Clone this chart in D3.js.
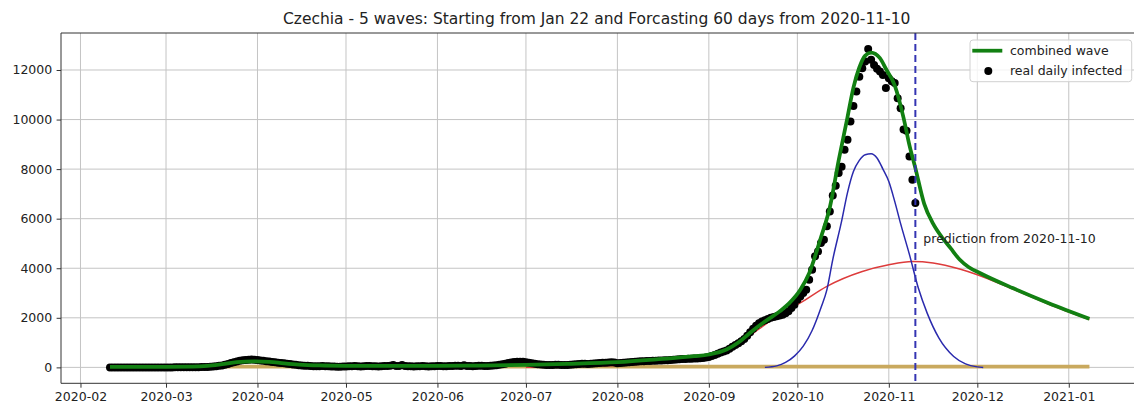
<!DOCTYPE html>
<html>
<head>
<meta charset="utf-8">
<script src="https://cdn.jsdelivr.net/npm/d3@7"></script>
<style>
  body { margin: 0; background: #fff; }
  svg { display: block; font-family: "DejaVu Sans", sans-serif; }
</style>
</head>
<body>
<svg id="chart" width="1134" height="408"></svg>
<script>
// ---- data -------------------------------------------------------------
const chartTitle = "Czechia - 5 waves: Starting from Jan 22 and Forcasting 60 days from 2020-11-10";
const predictionDate = "2020-11-10";
const predictionLabel = "prediction from 2020-11-10";
const legendLabels = ["combined wave", "real daily infected"];

const yTicks = [0, 2000, 4000, 6000, 8000, 10000, 12000];
const xTickMonths = ["2020-02-01", "2020-03-01", "2020-04-01", "2020-05-01", "2020-06-01",
  "2020-07-01", "2020-08-01", "2020-09-01", "2020-10-01", "2020-11-01", "2020-12-01", "2021-01-01"];

// daily infected, one value per day from infectedStart
const infectedStart = "2020-02-11";
const dailyInfected = [
  // Feb 11 - Feb 29
  0, 0, 0, 0, 0, 0, 0, 0, 0, 0, 0, 0, 0, 0, 0, 0, 0, 0, 0,
  // March
  0, 0, 0, 2, 3, 3, 4, 4, 5, 5, 8, 10, 12, 15, 18, 22, 35, 50, 65, 80,
  110, 140, 175, 210, 240, 265, 285, 300, 310, 315, 305,
  // April
  295, 280, 265, 250, 235, 220, 205, 190, 178, 165, 150, 135, 120, 105, 90,
  80, 70, 62, 55, 50, 45, 45, 60, 50, 45, 40, 35, 30, 30, 35,
  // May
  40, 45, 50, 55, 45, 40, 50, 60, 55, 50, 45, 40, 50, 55, 60, 70, 95, 60, 55, 95,
  60, 50, 45, 40, 45, 50, 55, 45, 40, 45, 50,
  // June
  55, 60, 50, 45, 55, 60, 65, 70, 60, 90, 60, 55, 50, 60, 65, 70, 60, 55, 65, 75,
  90, 110, 130, 150, 180, 200, 215, 225, 230, 225,
  // July
  210, 190, 170, 150, 130, 115, 105, 100, 95, 100, 105, 110, 100, 95, 100, 110,
  120, 130, 140, 150, 145, 140, 150, 160, 170, 180, 185, 190, 200, 210, 200,
  // August
  170, 180, 190, 200, 210, 220, 230, 240, 245, 250, 255, 260, 265, 270, 275, 280,
  285, 290, 300, 310, 320, 330, 335, 340, 345, 350, 355, 360, 370, 380, 400,
  // September
  420, 460, 500, 550, 600, 640, 680, 750, 830, 900, 970, 1050, 1150, 1280, 1420,
  1560, 1680, 1780, 1850, 1900, 1950, 2000, 2030, 2060, 2090, 2125, 2180, 2260, 2400, 2530,
  // October
  2730, 2860, 3000, 3130, 3540, 3940, 4480, 4680, 5020, 5150, 5690, 6290, 6940, 7330, 7840,
  8100, 8780, 9180, 9920, 10550, 11130, 11730, 12070, 12340, 12850, 12410, 12200, 12050,
  11940, 11800, 11270,
  // Nov 1 - Nov 10
  11670, 11550, 11470, 10860, 10460, 9600, 9550, 8510, 7570, 6630
];

// fitted curves: [date, value]
const combinedWave = [
  ["2020-02-11", 20], ["2020-03-01", 20], ["2020-03-10", 30], ["2020-03-15", 60],
  ["2020-03-20", 130], ["2020-03-25", 210], ["2020-03-31", 245], ["2020-04-05", 225],
  ["2020-04-10", 165], ["2020-04-15", 115], ["2020-04-22", 80], ["2020-05-01", 65],
  ["2020-05-15", 60], ["2020-06-01", 65], ["2020-06-15", 75], ["2020-07-01", 100],
  ["2020-07-15", 140], ["2020-08-01", 210], ["2020-08-15", 330], ["2020-08-27", 450],
  ["2020-09-01", 520], ["2020-09-07", 720], ["2020-09-11", 1000], ["2020-09-15", 1400],
  ["2020-09-20", 1850], ["2020-09-25", 2260], ["2020-09-28", 2560], ["2020-10-02", 3130],
  ["2020-10-05", 3800], ["2020-10-09", 5250], ["2020-10-12", 6450], ["2020-10-15", 8350],
  ["2020-10-18", 10100], ["2020-10-20", 11290], ["2020-10-22", 12100], ["2020-10-24", 12580],
  ["2020-10-26", 12700], ["2020-10-29", 12480], ["2020-10-31", 12050], ["2020-11-03", 11380],
  ["2020-11-06", 10070], ["2020-11-08", 8960], ["2020-11-10", 8040], ["2020-11-13", 6600],
  ["2020-11-16", 5800], ["2020-11-19", 5250], ["2020-11-22", 4800], ["2020-11-25", 4350],
  ["2020-11-28", 4050], ["2020-12-02", 3800], ["2020-12-13", 3200], ["2020-12-25", 2600],
  ["2021-01-08", 1960]
];

const waveRed = [
  ["2020-07-01", 5], ["2020-08-01", 80], ["2020-08-15", 200], ["2020-09-01", 450],
  ["2020-09-11", 950], ["2020-09-18", 1550], ["2020-09-25", 2125], ["2020-10-02", 2600],
  ["2020-10-11", 3270], ["2020-10-23", 3870], ["2020-11-01", 4140], ["2020-11-09", 4270],
  ["2020-11-16", 4210], ["2020-11-25", 3970], ["2020-12-01", 3740], ["2020-12-13", 3160],
  ["2020-12-25", 2560], ["2021-01-08", 1930]
];

const waveBlue = [
  ["2020-09-20", 0], ["2020-09-24", 60], ["2020-09-27", 200], ["2020-09-30", 455],
  ["2020-10-03", 855], ["2020-10-06", 1490], ["2020-10-09", 2410], ["2020-10-11", 3130],
  ["2020-10-13", 4350], ["2020-10-16", 5900], ["2020-10-18", 7050], ["2020-10-20", 7900],
  ["2020-10-22", 8350], ["2020-10-24", 8580], ["2020-10-26", 8620], ["2020-10-28", 8450],
  ["2020-10-30", 8000], ["2020-11-01", 7500], ["2020-11-03", 6700], ["2020-11-05", 5800],
  ["2020-11-08", 4550], ["2020-11-11", 3200], ["2020-11-14", 2190], ["2020-11-18", 1180],
  ["2020-11-23", 440], ["2020-11-27", 140], ["2020-12-01", 20], ["2020-12-03", 0]
];

const waveGold = [["2020-02-11", 30], ["2020-06-01", 30], ["2020-10-01", 30], ["2021-01-08", 30]];

// ---- layout -----------------------------------------------------------
const frame = { left: 61, right: 1138.4, top: 33, bottom: 383.3 };
const parse = d3.utcParse("%Y-%m-%d");
const svg = d3.select("#chart");

const infected = dailyInfected.map((v, i) => [d3.utcDay.offset(parse(infectedStart), i), v]);
const toPts = arr => arr.map(d => [parse(d[0]), d[1]]);
const combinedPts = toPts(combinedWave);
const redPts = toPts(waveRed);
const bluePts = toPts(waveBlue);
const goldPts = toPts(waveGold);

// axis limits with 5% padding around the data
const allDates = infected.map(d => d[0]).concat(combinedPts.map(d => d[0]));
const [dMin, dMax] = d3.extent(allDates);
const dPad = (dMax - dMin) * 0.05;
const x = d3.scaleUtc()
  .domain([new Date(+dMin - dPad), new Date(+dMax + dPad)])
  .range([frame.left, frame.right]);

const allVals = dailyInfected.concat(combinedPts.map(d => d[1]));
const [vMin, vMax] = d3.extent(allVals);
const vPad = (vMax - vMin) * 0.05;
const y = d3.scaleLinear()
  .domain([vMin - vPad, vMax + vPad])
  .range([frame.bottom, frame.top]);

const xTicks = xTickMonths.map(parse);

// clip to plotting area
svg.append("defs").append("clipPath").attr("id", "plotArea")
  .append("rect")
  .attr("x", frame.left).attr("y", frame.top)
  .attr("width", frame.right - frame.left).attr("height", frame.bottom - frame.top);

// grid
const grid = svg.append("g").attr("stroke", "#c4c4c4").attr("stroke-width", 1);
grid.selectAll(".gx").data(xTicks).join("line")
  .attr("x1", d => x(d)).attr("x2", d => x(d))
  .attr("y1", frame.top).attr("y2", frame.bottom);
grid.selectAll(".gy").data(yTicks).join("line")
  .attr("x1", frame.left).attr("x2", frame.right)
  .attr("y1", d => y(d)).attr("y2", d => y(d));

const plot = svg.append("g").attr("clip-path", "url(#plotArea)");
const line = d3.line().x(d => x(d[0])).y(d => y(d[1])).curve(d3.curveMonotoneX);

plot.append("path").datum(goldPts).attr("d", line)
  .attr("fill", "none").attr("stroke", "#c9a95e").attr("stroke-width", 3.6);
plot.append("path").datum(redPts).attr("d", line)
  .attr("fill", "none").attr("stroke", "#dd3b3b").attr("stroke-width", 1.5);
plot.append("path").datum(bluePts).attr("d", line)
  .attr("fill", "none").attr("stroke", "#2a2aad").attr("stroke-width", 1.5);

plot.append("g").selectAll("circle").data(infected).join("circle")
  .attr("cx", d => x(d[0])).attr("cy", d => y(d[1])).attr("r", 4)
  .attr("fill", "#000");

plot.append("path").datum(combinedPts).attr("d", line)
  .attr("fill", "none").attr("stroke", "#128012").attr("stroke-width", 3.75);

// prediction marker
const px = x(parse(predictionDate));
plot.append("line")
  .attr("x1", px).attr("x2", px).attr("y1", frame.top).attr("y2", frame.bottom)
  .attr("stroke", "#3434b2").attr("stroke-width", 2).attr("stroke-dasharray", "7,4");
svg.append("text")
  .attr("x", px + 8).attr("y", y(5180)).attr("dy", "0.35em")
  .attr("font-size", "12.5px").attr("fill", "#222")
  .text(predictionLabel);

// axes
const xAxis = svg.append("g")
  .attr("transform", `translate(0,${frame.bottom})`)
  .call(d3.axisBottom(x).tickValues(xTicks).tickFormat(d3.utcFormat("%Y-%m"))
    .tickSize(4.4).tickPadding(4.4));
const yAxis = svg.append("g")
  .attr("transform", `translate(${frame.left},0)`)
  .call(d3.axisLeft(y).tickValues(yTicks).tickFormat(d3.format("d"))
    .tickSize(4.4).tickPadding(4.4));
[xAxis, yAxis].forEach(a => {
  a.select(".domain").remove();
  a.selectAll(".tick line").attr("stroke", "#333").attr("stroke-width", 1);
  a.selectAll(".tick text").attr("fill", "#222").attr("font-size", "12.5px")
    .attr("font-family", "DejaVu Sans, sans-serif");
});

// spines
const spines = svg.append("g").attr("stroke", "#333").attr("stroke-width", 1);
spines.append("line").attr("x1", frame.left).attr("x2", frame.left).attr("y1", frame.top).attr("y2", frame.bottom);
spines.append("line").attr("x1", frame.left).attr("x2", frame.right).attr("y1", frame.top).attr("y2", frame.top);
spines.append("line").attr("x1", frame.left).attr("x2", frame.right).attr("y1", frame.bottom).attr("y2", frame.bottom);
spines.append("line").attr("x1", frame.right).attr("x2", frame.right).attr("y1", frame.top).attr("y2", frame.bottom);

// title
svg.append("text")
  .attr("x", (frame.left + frame.right) / 2 - 3).attr("y", 24)
  .attr("text-anchor", "middle").attr("font-size", "15.5px").attr("fill", "#222")
  .text(chartTitle);

// legend
const lg = svg.append("g").attr("transform", "translate(970,40)");
lg.append("rect").attr("width", 161.7).attr("height", 41.7).attr("rx", 3)
  .attr("fill", "#fff").attr("fill-opacity", 0.8).attr("stroke", "#d0d0d0");
lg.append("line").attr("x1", 2.3).attr("x2", 32.3).attr("y1", 10.7).attr("y2", 10.7)
  .attr("stroke", "#128012").attr("stroke-width", 3.75);
lg.append("circle").attr("cx", 18.3).attr("cy", 31).attr("r", 4).attr("fill", "#000");
lg.selectAll("text").data(legendLabels).join("text")
  .attr("x", 40).attr("y", (d, i) => 10.7 + i * 19.6).attr("dy", "0.35em")
  .attr("font-size", "12.5px").attr("fill", "#222").text(d => d);
</script>
</body>
</html>
